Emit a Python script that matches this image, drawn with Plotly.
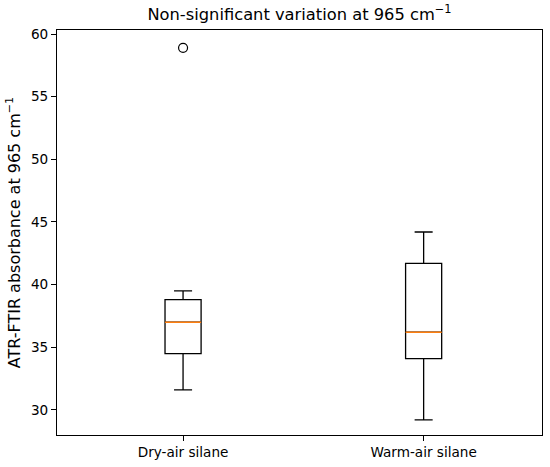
"""
Boxplot: ATR-FTIR absorbance at 965 cm-1, dry-air vs warm-air silane
"""

import plotly.graph_objects as go

# ====================================================
# Data
# ====================================================

groups = ["Dry-air silane", "Warm-air silane"]
positions = [1, 2]
lower_fence = [31.6, 29.2]
q1 = [34.5, 34.1]
median = [37.0, 36.2]
q3 = [38.8, 41.7]
upper_fence = [39.5, 44.2]
outlier_pos = [1]
outlier_val = [58.9]

box_width = 0.15

fig = go.Figure()

fig.add_trace(

    go.Box(

        x=positions,
        q1=q1,
        median=median,
        q3=q3,
        lowerfence=lower_fence,
        upperfence=upper_fence,
        width=box_width,
        whiskerwidth=0.5,
        fillcolor="rgba(0,0,0,0)",
        line=dict(color="black", width=1.3),
        boxpoints=False,
        hoverinfo="skip"

    )

)

# orange median lines on top of the boxes
for p, m in zip(positions, median):

    fig.add_trace(

        go.Scatter(

            x=[p - box_width / 2, p + box_width / 2],
            y=[m, m],
            mode="lines",
            line=dict(color="#ff7f0e", width=1.4),
            hoverinfo="skip"

        )

    )

fig.add_trace(

    go.Scatter(

        x=outlier_pos,
        y=outlier_val,
        mode="markers",
        marker=dict(
            symbol="circle-open",
            size=9,
            color="black",
            line=dict(width=1.2, color="black")
        ),
        hoverinfo="skip"

    )

)

fig.update_layout(

    title=dict(
        text="Non-significant variation at 965 cm<sup>−1</sup>",
        x=0.5,
        xref="paper",
        xanchor="center",
        y=1 - 14 / 467,
        yref="container",
        yanchor="middle",
        font=dict(family="DejaVu Sans", size=16.3, color="black")
    ),
    width=550,
    height=467,
    margin=dict(l=57, r=8, t=30, b=32),
    paper_bgcolor="white",
    plot_bgcolor="white",
    showlegend=False,
    font=dict(family="DejaVu Sans", size=13.6, color="black")

)

fig.update_xaxes(

    range=[0.476, 2.492],
    tickmode="array",
    tickvals=positions,
    ticktext=groups,
    ticks="outside",
    ticklen=5,
    tickwidth=1,
    tickcolor="black",
    showgrid=False,
    zeroline=False,
    showline=True,
    linecolor="black",
    linewidth=1,
    mirror=True

)

fig.update_yaxes(

    range=[28.0, 60.32],
    tickmode="array",
    tickvals=[30, 35, 40, 45, 50, 55, 60],
    title=dict(text="ATR-FTIR absorbance at 965 cm<sup>−1</sup>", standoff=6),
    ticks="outside",
    ticklen=5,
    tickwidth=1,
    tickcolor="black",
    showgrid=False,
    zeroline=False,
    showline=True,
    linecolor="black",
    linewidth=1,
    mirror=True

)

# drop the browser's default body margin so the figure sits at (0, 0)
fig.write_html(
    "out.html",
    config={"displayModeBar": False},
    post_script="document.body.style.margin='0';"
)
